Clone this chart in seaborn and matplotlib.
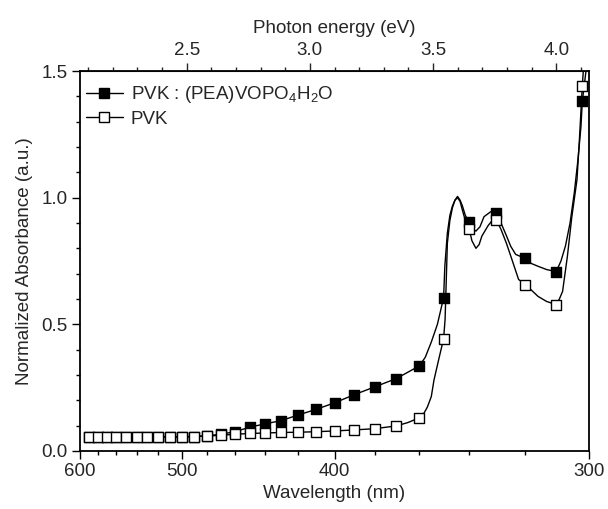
import numpy as np
import pandas as pd
import matplotlib.pyplot as plt
import seaborn as sns
from matplotlib.lines import Line2D

# marker positions (nm) and values
marker_wl = [590, 580, 570, 560, 550, 540, 530, 520, 510, 500, 490, 480, 470, 460, 450,
             440, 430, 420, 410, 400, 390, 380, 370, 360, 350, 340, 330, 320, 310, 302]
pea_abs = [0.055, 0.055, 0.055, 0.055, 0.055, 0.055, 0.055, 0.055, 0.055, 0.056, 0.057, 0.060,
           0.066, 0.076, 0.094, 0.107, 0.120, 0.142, 0.164, 0.190, 0.222, 0.253, 0.286, 0.336,
           0.605, 0.902, 0.938, 0.760, 0.708, 1.380]
pvk_abs = [0.056, 0.056, 0.056, 0.056, 0.056, 0.056, 0.056, 0.056, 0.056, 0.056, 0.057, 0.059,
           0.062, 0.066, 0.069, 0.071, 0.073, 0.074, 0.076, 0.079, 0.083, 0.088, 0.099, 0.131,
           0.443, 0.875, 0.910, 0.657, 0.578, 1.440]

# extra points read along the curves between markers
pea_trace_wl = [357.5, 355, 352.5, 349.5, 348.5, 347.5, 346.5, 345.5, 344.5, 343.5, 342.6,
                341.5, 339, 337.5, 336, 334.5, 332, 328.4, 326.5, 325, 323.3, 318, 315.8,
                313, 308.5, 307.1, 305.7, 304.4, 303.3, 302.4, 300.9, 300]
pea_trace_abs = [0.370, 0.430, 0.500, 0.730, 0.860, 0.930, 0.967, 0.990, 1.005, 0.990, 0.967,
                 0.930, 0.880, 0.868, 0.885, 0.925, 0.945, 0.900, 0.850, 0.808, 0.776, 0.740,
                 0.729, 0.716, 0.750, 0.810, 0.900, 1.020, 1.150, 1.280, 1.500, 1.720]
pvk_trace_wl = [365, 358, 356.6, 355, 353.9, 352, 349.4, 348.5, 347.5, 346.5, 345.5, 344.5,
                343.5, 342.6, 341.5, 339, 337.5, 336.3, 335.3, 333, 331.5, 328.4, 326.5, 325,
                322.3, 318, 315.8, 313, 309, 308, 306.5, 305.2, 303.6, 302.9, 301.2, 300]
pvk_trace_abs = [0.112, 0.150, 0.174, 0.215, 0.280, 0.360, 0.520, 0.820, 0.910, 0.960, 0.990,
                 1.000, 0.985, 0.950, 0.910, 0.830, 0.800, 0.815, 0.848, 0.890, 0.910, 0.875,
                 0.820, 0.770, 0.677, 0.635, 0.610, 0.590, 0.600, 0.630, 0.770, 0.920, 1.070,
                 1.220, 1.600, 1.850]

wl_ticks = [600, 500, 400, 300]
wl_minor = [580, 560, 540, 520, 480, 460, 440, 420, 380, 360, 340, 320]
ev_ticks = [2.5, 3.0, 3.5, 4.0]
labels = [r"PVK : (PEA)VOPO$_4$H$_2$O", "PVK"]

HC = 1240.0
FS = 13.5

sns.set_style("ticks")
plt.rcParams['font.family'] = ['Liberation Sans', 'DejaVu Sans']
plt.rcParams['mathtext.fontset'] = 'custom'
plt.rcParams['mathtext.rm'] = 'Liberation Sans'
plt.rcParams['mathtext.it'] = 'Liberation Sans'

marks = pd.DataFrame({"wl": marker_wl * 2,
                      "abs": pea_abs + pvk_abs,
                      "sample": [labels[0]] * len(marker_wl) + [labels[1]] * len(marker_wl)})
marks["ev"] = HC / marks["wl"]

pea_line = pd.DataFrame({"wl": marker_wl + pea_trace_wl, "abs": pea_abs + pea_trace_abs})
pvk_line = pd.DataFrame({"wl": marker_wl + pvk_trace_wl, "abs": pvk_abs + pvk_trace_abs})
for d in (pea_line, pvk_line):
    d["ev"] = HC / d["wl"]

fig, ax = plt.subplots(figsize=(6.08, 5.09), dpi=100)
fig.subplots_adjust(left=0.1316, right=0.9688, bottom=0.114, top=0.8605)

sns.lineplot(data=pea_line, x="ev", y="abs", color="black", lw=1, ax=ax, zorder=2)
sns.lineplot(data=pvk_line, x="ev", y="abs", color="black", lw=1, ax=ax, zorder=2)
sns.scatterplot(data=marks[marks["sample"] == labels[0]], x="ev", y="abs", marker="s", s=55,
                color="black", edgecolor="black", linewidth=1, ax=ax, zorder=3, legend=False)
sns.scatterplot(data=marks[marks["sample"] == labels[1]], x="ev", y="abs", marker="s", s=55,
                color="white", edgecolor="black", linewidth=1, ax=ax, zorder=4, legend=False)

ax.set_xlim(HC / 600, HC / 300)
ax.set_ylim(0, 1.5)
ax.set_xticks([HC / w for w in wl_ticks])
ax.set_xticklabels([str(w) for w in wl_ticks])
ax.set_xticks([HC / w for w in wl_minor], minor=True)
ax.set_yticks([0, 0.5, 1.0, 1.5])
ax.set_yticks(np.arange(0.1, 1.5, 0.1), minor=True)
ax.set_xlabel("Wavelength (nm)", fontsize=FS, labelpad=3)
ax.set_ylabel("Normalized Absorbance (a.u.)", fontsize=FS, labelpad=6)
ax.tick_params(which="major", length=6, width=1, labelsize=FS, color="black", pad=3)
ax.tick_params(which="minor", length=3, width=1, color="black")
for sp in ax.spines.values():
    sp.set_linewidth(1.3)
    sp.set_color("black")

top = ax.secondary_xaxis("top")
top.set_xticks(ev_ticks)
top.set_xticklabels([f"{e:.1f}" for e in ev_ticks])
top.set_xticks(np.arange(2.1, 4.15, 0.1), minor=True)
top.tick_params(which="major", length=6, width=1, labelsize=FS, pad=3)
top.tick_params(which="minor", length=3, width=1)
top.set_xlabel("Photon energy (eV)", fontsize=FS, labelpad=6)

handles = [Line2D([], [], color="black", lw=1, marker="s", markersize=7.5,
                  markerfacecolor="black", markeredgecolor="black"),
           Line2D([], [], color="black", lw=1, marker="s", markersize=7.5,
                  markerfacecolor="white", markeredgecolor="black")]
ax.legend(handles, labels, loc="upper left", frameon=False, fontsize=FS,
          handlelength=2.0, handletextpad=0.4, labelspacing=0.3,
          borderaxespad=0.3, bbox_to_anchor=(-0.015, 1.0))

fig.savefig("out.png", dpi=100)
